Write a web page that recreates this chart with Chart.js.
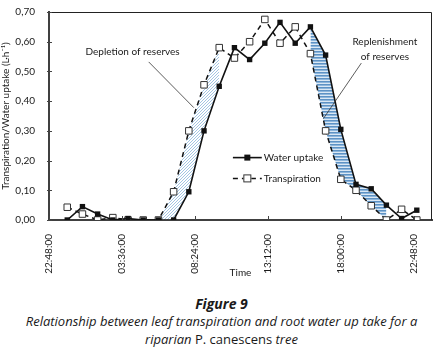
<!DOCTYPE html>
<html><head><meta charset="utf-8">
<script src="https://cdn.jsdelivr.net/npm/chart.js@4/dist/chart.umd.min.js"></script>
<style>
html,body{margin:0;padding:0;background:#fff;width:443px;height:349px;overflow:hidden}
#wrap{position:absolute;left:0;top:0;width:443px;height:282px}
#cap{position:absolute;left:0;top:295px;width:443px;text-align:center;color:#1a1a1a;font-family:"Open Sans",sans-serif;font-style:italic}
#cap .fig{font-weight:bold;font-size:14px;line-height:17px}
#cap .ln{font-size:13px;line-height:18px;letter-spacing:0px}
#cap .up{font-style:normal}
</style></head>
<body>
<div id="wrap"><canvas id="c" width="443" height="282"></canvas></div>
<div id="cap">
<div class="fig">Figure 9</div>
<div class="ln">Relationship between leaf transpiration and root water up take for a</div>
<div class="ln">riparian <span class="up">P. canescens</span> tree</div>
</div>
<script>
// ---- data (hours after midnight) ----
const hours = [0,1,2,3,4,5,6,7,8,9,10,11,12,13,14,15,16,17,18,19,20,21,22,23];
const waterUptake = [0.00,0.045,0.02,0.00,0.005,0.00,0.00,0.00,0.095,0.30,0.45,0.58,0.54,0.595,0.665,0.595,0.65,0.555,0.305,0.12,0.105,0.05,0.005,0.033];
const transpiration = [0.043,0.02,0.00,0.008,0.00,0.00,0.00,0.095,0.30,0.455,0.58,0.545,0.60,0.675,0.595,0.65,0.56,0.30,0.137,0.10,0.048,0.00,0.036,0.00];
const depletionHours = [6,7,8,9,10];
const replenishHours = [16,17,18,19,20,21];
const xTickValues = [-1.2,3.6,8.4,13.2,18,22.8];
const xTickLabels = ['22:48:00','03:36:00','08:24:00','13:12:00','18:00:00','22:48:00'];
const yTickValues = [0,0.1,0.2,0.3,0.4,0.5,0.6,0.7];
const yTickLabels = ['0,00','0,10','0,20','0,30','0,40','0,50','0,60','0,70'];
const seriesNames = ['Water uptake','Transpiration'];
const yTitle = 'Transpiration/Water uptake (L\u00b7h\u207b\u00b9)';
const xTitle = 'Time';
const notes = [
  {lines:['Depletion of reserves'], x:4.3, y:0.565, from:[5.36,0.532], to:[8.33,0.378]},
  {lines:['Replenishment','of reserves'], x:20.9, y:0.60, from:[19.35,0.528], to:[16.85,0.341]}
];

const FONT = 'Lato, "Open Sans", sans-serif';
const pts = (hs, vals) => hs.map(h => ({x:h, y:vals[hours.indexOf(h)]}));

function makePattern(kind){
  const c = document.createElement('canvas');
  const g = c.getContext('2d');
  if(kind==='diag'){
    c.width=3; c.height=3;
    g.fillStyle='#ffffff'; g.fillRect(0,0,3,3);
    g.fillStyle='#a3c5e3';
    for(let i=0;i<3;i++) g.fillRect(i, 2-i, 1, 1);
  } else {
    c.width=4; c.height=3;
    g.fillStyle='#5e92c4'; g.fillRect(0,0,4,1);
    g.fillStyle='#8db6dc'; g.fillRect(0,1,4,1);
    g.fillStyle='#dbe8f4'; g.fillRect(0,2,4,1);
  }
  return g.createPattern(c,'repeat');
}

const decor = {
  id:'decor',
  afterDatasetsDraw(chart){
    const ctx = chart.ctx, a = chart.chartArea, xs = chart.scales.x, ys = chart.scales.y;
    ctx.save();
    ctx.strokeStyle='#222'; ctx.lineWidth=1;
    ctx.beginPath();
    ctx.moveTo(a.left, a.top+0.5); ctx.lineTo(a.right-0.5, a.top+0.5); ctx.lineTo(a.right-0.5, a.bottom);
    ctx.stroke();
    ctx.strokeStyle='#444'; ctx.lineWidth=1;
    ctx.beginPath();
    xTickValues.forEach(v=>{const px=Math.round(xs.getPixelForValue(v))+0.5; ctx.moveTo(px,a.bottom); ctx.lineTo(px,a.bottom-4);});
    yTickValues.forEach(v=>{const py=Math.round(ys.getPixelForValue(v))+0.5; ctx.moveTo(a.left-2,py); ctx.lineTo(a.left+3,py);});
    ctx.stroke();
    const lx0 = xs.getPixelForValue(10.9), lx1 = xs.getPixelForValue(12.8);
    const ly = [ys.getPixelForValue(0.21), ys.getPixelForValue(0.14)];
    const mx = (lx0+lx1)/2;
    ctx.strokeStyle='#111'; ctx.lineWidth=1.6; ctx.setLineDash([]);
    ctx.beginPath(); ctx.moveTo(lx0,ly[0]); ctx.lineTo(lx1,ly[0]); ctx.stroke();
    ctx.fillStyle='#111'; ctx.fillRect(mx-3,ly[0]-3,6,6);
    ctx.setLineDash([5,4]); ctx.lineWidth=1.5;
    ctx.beginPath(); ctx.moveTo(lx0,ly[1]); ctx.lineTo(lx1,ly[1]); ctx.stroke();
    ctx.setLineDash([]);
    ctx.fillStyle='#fff'; ctx.fillRect(mx-4,ly[1]-4,8,8);
    ctx.strokeStyle='#333'; ctx.lineWidth=1; ctx.strokeRect(mx-3.5,ly[1]-3.5,7,7);
    ctx.fillStyle='#1a1a1a'; ctx.font='10px '+FONT; ctx.textBaseline='middle'; ctx.textAlign='left';
    ctx.fillText(seriesNames[0], lx1+2, ly[0]);
    ctx.fillText(seriesNames[1], lx1+2, ly[1]);
    ctx.textAlign='center';
    notes.forEach(n=>{
      const cx = xs.getPixelForValue(n.x), cy = ys.getPixelForValue(n.y);
      n.lines.forEach((t,i)=>ctx.fillText(t, cx, cy + i*15));
      ctx.strokeStyle='#333'; ctx.lineWidth=0.8;
      ctx.beginPath();
      ctx.moveTo(xs.getPixelForValue(n.from[0]), ys.getPixelForValue(n.from[1]));
      ctx.lineTo(xs.getPixelForValue(n.to[0]), ys.getPixelForValue(n.to[1]));
      ctx.stroke();
    });
    ctx.restore();
  }
};

const band = {borderWidth:0, borderColor:'rgba(0,0,0,0)', pointRadius:0, tension:0};
new Chart(document.getElementById('c'), {
  type:'line',
  data:{datasets:[
    Object.assign({data:pts(depletionHours, transpiration), fill:'+1', backgroundColor:makePattern('diag'), order:5}, band),
    Object.assign({data:pts(depletionHours, waterUptake), fill:false, order:5}, band),
    Object.assign({data:pts(replenishHours, waterUptake), fill:'+1', backgroundColor:makePattern('stripe'), order:4}, band),
    Object.assign({data:pts(replenishHours, transpiration), fill:false, order:4}, band),
    {label:seriesNames[0], data:pts(hours, waterUptake), borderColor:'#111', borderWidth:1.6, pointStyle:'rect', pointRadius:3.8, pointBackgroundColor:'#111', pointBorderColor:'#111', pointBorderWidth:0, fill:false, order:1},
    {label:seriesNames[1], data:pts(hours, transpiration), borderColor:'#111', borderWidth:1.5, borderDash:[5,4], pointStyle:'rect', pointRadius:4.6, pointBackgroundColor:'#fff', pointBorderColor:'#333', pointBorderWidth:1, fill:false, order:2}
  ]},
  options:{
    responsive:false, animation:false, devicePixelRatio:1,
    layout:{padding:{left:0, top:10, right:11, bottom:0}},
    plugins:{legend:{display:false}, tooltip:{enabled:false}},
    scales:{
      x:{type:'linear', min:-1.2, max:24,
        afterBuildTicks:s=>{s.ticks = xTickValues.map(v=>({value:v}));},
        afterFit:s=>{s.height = 62;},
        ticks:{autoSkip:false, maxRotation:90, minRotation:90, padding:6, color:'#1a1a1a', font:{family:FONT, size:10}, callback:(v,i)=>xTickLabels[i]},
        grid:{display:false}, border:{display:true, color:'#404040', width:2},
        title:{display:true, text:xTitle, color:'#1a1a1a', font:{family:FONT, size:10}, padding:{top:0,bottom:3}}
      },
      y:{min:0, max:0.7,
        afterBuildTicks:s=>{s.ticks = yTickValues.map(v=>({value:v}));},
        afterFit:s=>{s.width = 49;},
        ticks:{padding:6, color:'#1a1a1a', font:{family:FONT, size:10}, callback:(v,i)=>yTickLabels[i]},
        grid:{display:false}, border:{display:true, color:'#404040', width:2},
        title:{display:true, text:yTitle, color:'#1a1a1a', font:{family:FONT, size:10}, padding:{top:0,bottom:0}}
      }
    }
  },
  plugins:[decor]
});
</script>
</body></html>
